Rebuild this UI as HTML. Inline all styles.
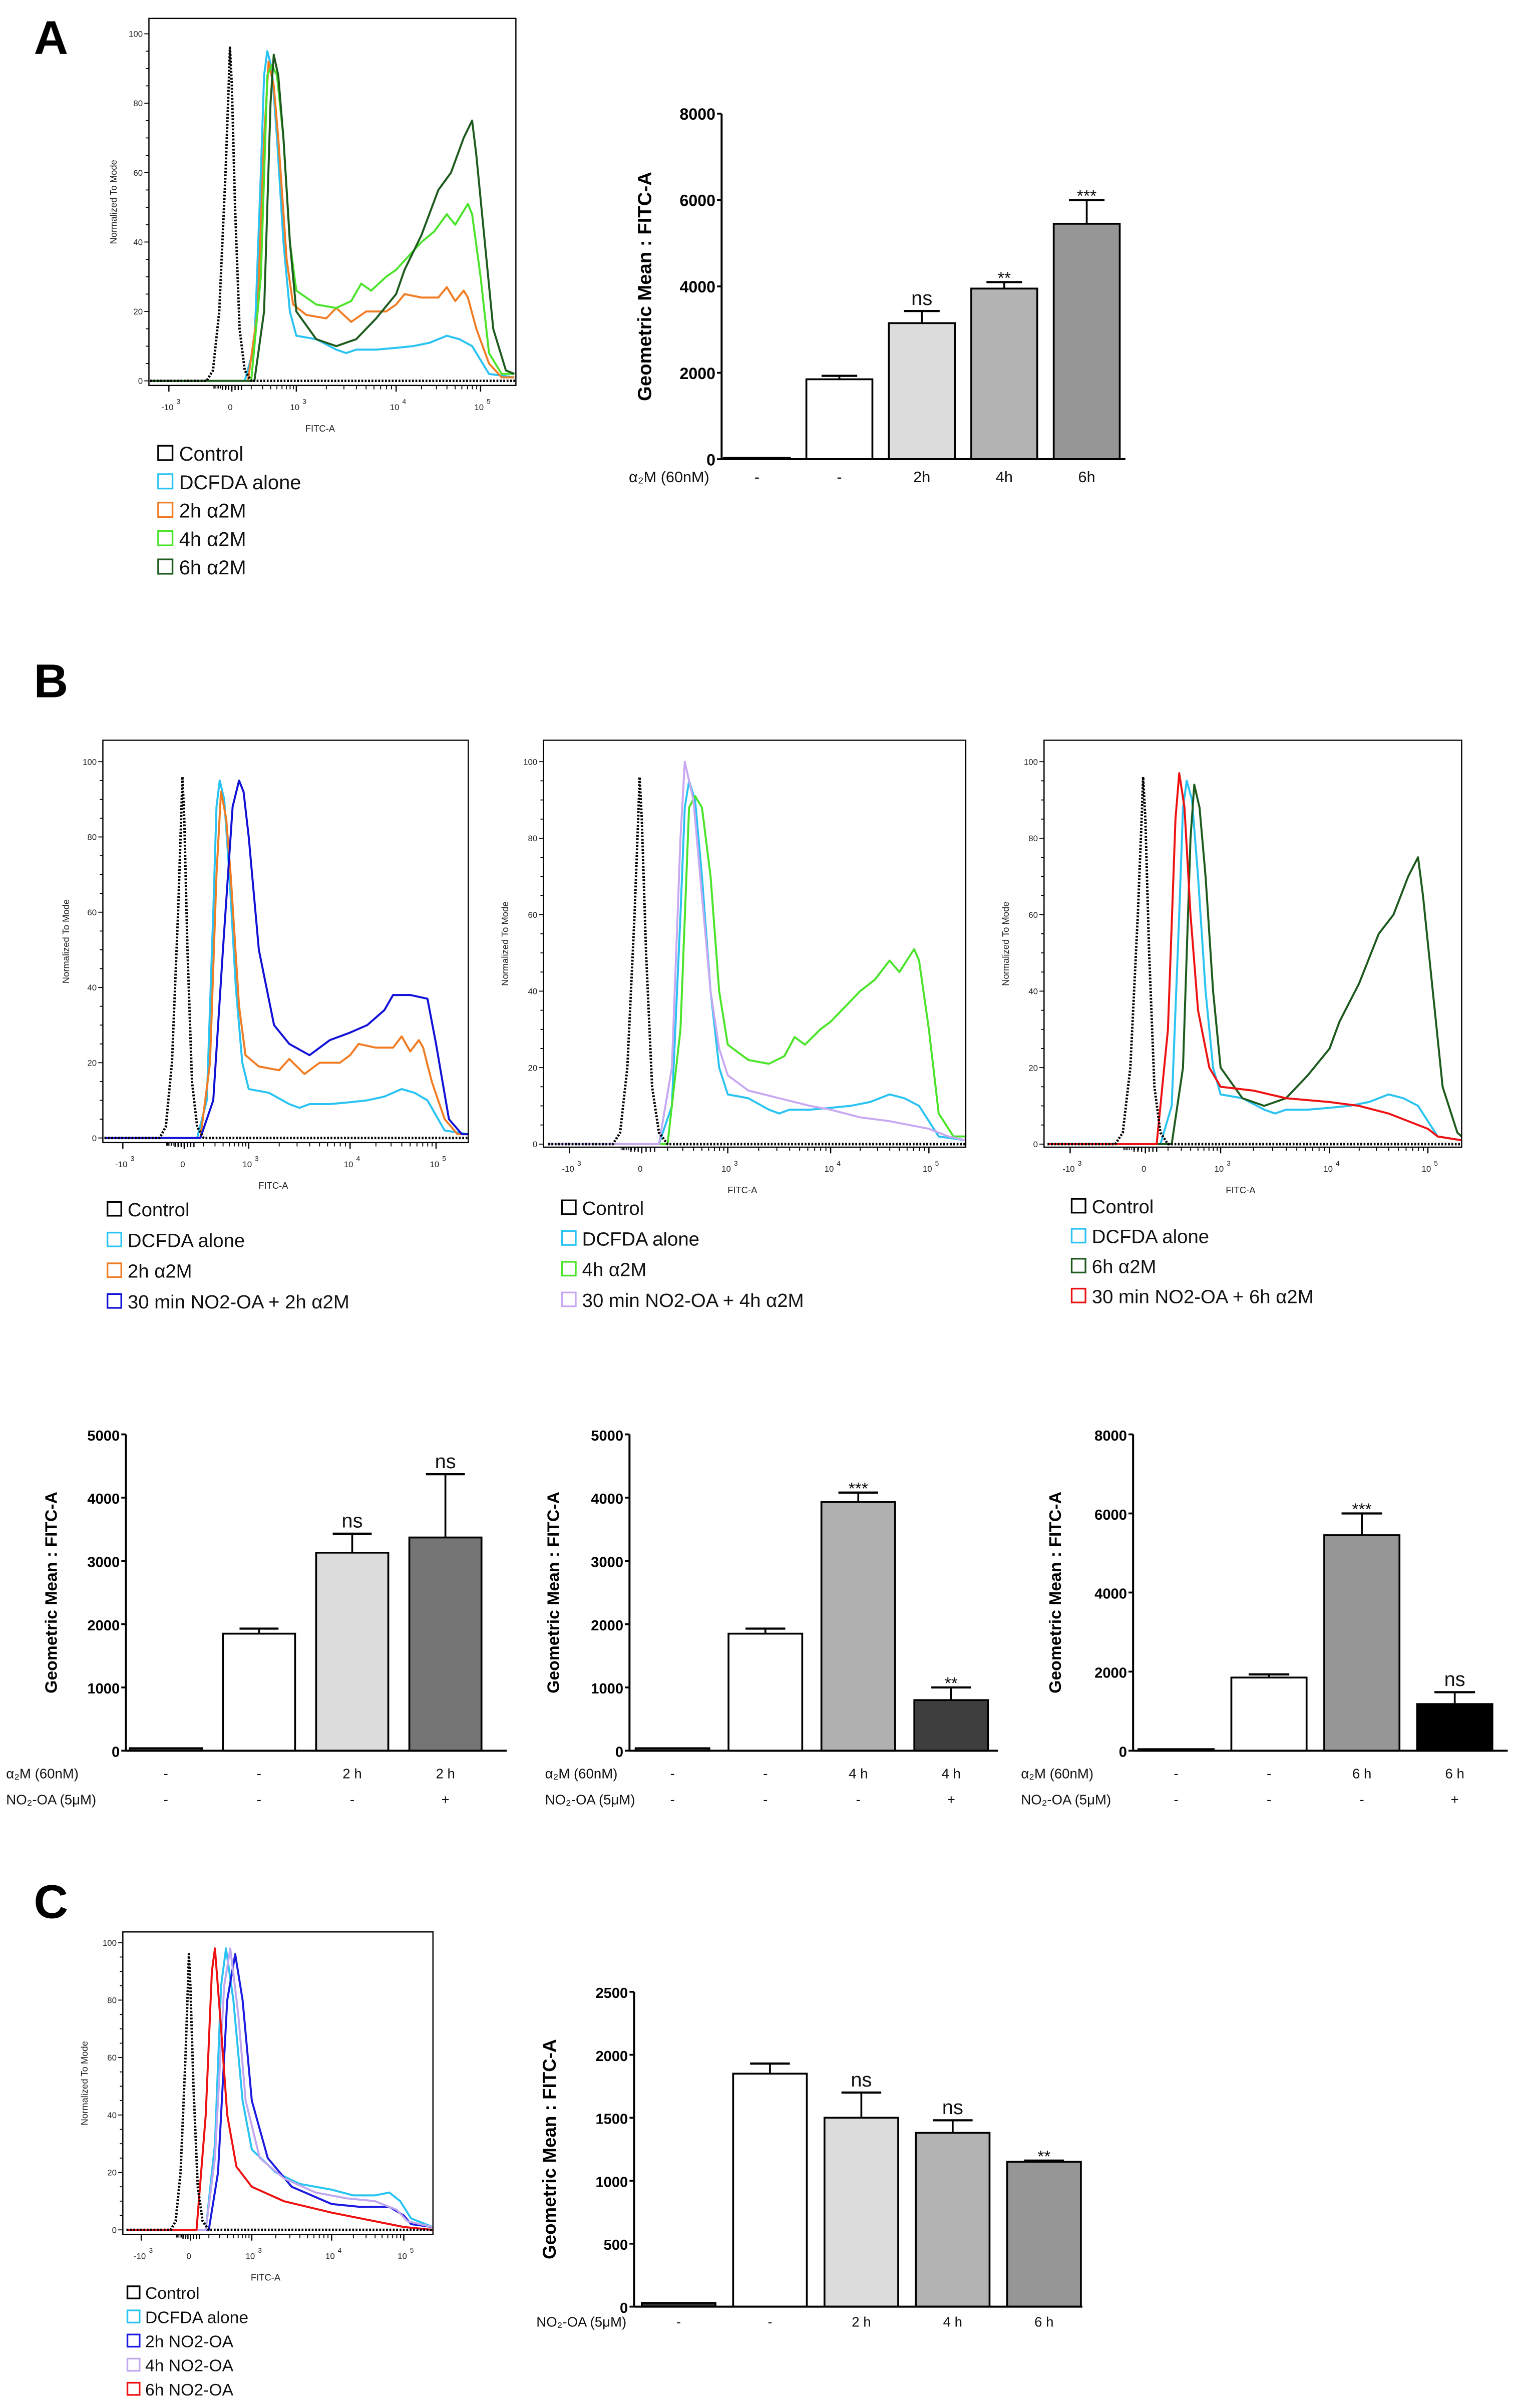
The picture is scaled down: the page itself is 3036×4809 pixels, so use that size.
<!DOCTYPE html>
<html><head><meta charset="utf-8"><style>
html,body{margin:0;padding:0;background:#fff;}
svg{display:block;font-family:"Liberation Sans",Arial,sans-serif;}
</style></head><body>
<svg id="fig" xmlns="http://www.w3.org/2000/svg" width="3036" height="4809" viewBox="0 0 990 1568" preserveAspectRatio="none">
<rect x="0" y="0" width="990" height="1568" fill="#fff"/>
<text x="22" y="35" font-size="31" font-weight="bold">A</text>
<text x="22" y="454" font-size="31" font-weight="bold">B</text>
<text x="22" y="1249" font-size="31" font-weight="bold">C</text>
</svg>
<script>
// ---------- histogram data (u: logicle decade units, -1=-10^3,0=0,1=10^3,2=10^4,3=10^5 ; v: % of mode) ----------
const ctrlU=[-1.3,-0.4,-0.3,-0.2,-0.1,-0.05,-0.03,0.0,0.05,0.12,0.2,0.3,3.5];
const ctrlV=[0,0,3,20,60,85,96,85,50,15,3,0,0];
const cyanU=[-1.3,0.2,0.35,0.45,0.5,0.55,0.62,0.7,0.8,0.9,1.0,1.2,1.4,1.5,1.6,1.8,2.0,2.2,2.4,2.6,2.75,2.9,3.0,3.1,3.4];
const cyanV=[0,0,10,60,88,95,90,70,40,20,13,12,9,8,9,9,9.5,10,11,13,12,10,6,2,1];
const orangeU=[-1.3,0.25,0.4,0.5,0.57,0.65,0.72,0.85,0.95,1.1,1.3,1.4,1.55,1.7,1.9,2.0,2.1,2.3,2.5,2.6,2.7,2.8,2.85,2.95,3.1,3.25,3.4];
const orangeV=[0,0,20,70,92,85,70,35,22,19,18,21,17,20,20,22,25,24,24,27,23,26,24,15,5,1,1];
const lgreenU=[-1.3,0.3,0.45,0.55,0.62,0.7,0.8,0.9,1.0,1.2,1.4,1.55,1.65,1.75,1.9,2.0,2.15,2.3,2.45,2.6,2.7,2.85,2.9,3.0,3.1,3.25,3.4];
const lgreenV=[0,0,30,88,91,88,70,40,26,22,21,23,28,26,30,32,36,40,43,48,45,51,48,30,8,2,2];
const dgreenU=[-1.3,0.35,0.5,0.6,0.65,0.72,0.8,0.9,1.0,1.2,1.4,1.6,1.8,2.0,2.1,2.3,2.5,2.65,2.8,2.9,2.95,3.05,3.15,3.3,3.4];
const dgreenV=[0,0,20,80,94,88,70,40,20,12,10,12,18,25,32,42,55,60,70,75,65,40,15,3,2];
const blueU=[-1.3,0.25,0.45,0.6,0.75,0.85,0.92,1.0,1.1,1.25,1.4,1.6,1.8,2.0,2.2,2.4,2.5,2.7,2.9,3.0,3.15,3.3,3.4];
const blueV=[0,0,10,50,88,95,92,80,50,30,25,22,26,28,30,34,38,38,37,25,5,1,1];
const lavU=[-1.3,0.2,0.35,0.45,0.5,0.6,0.7,0.8,0.9,1.0,1.2,1.5,1.8,2.0,2.3,2.6,2.8,3.0,3.2,3.4];
const lavV=[0,0,20,80,100,90,65,40,25,18,14,12,10,9,7,6,5,4,2,1];
const redU=[-1.3,0.15,0.3,0.4,0.45,0.52,0.6,0.7,0.85,1.0,1.3,1.6,2.0,2.3,2.6,2.8,3.0,3.1,3.4];
const redV=[0,0,30,85,97,88,60,35,20,15,14,12,11,10,8,6,4,2,1];
// panel C curves
const cCyanU=[-1.3,0.25,0.4,0.5,0.58,0.7,0.85,1.0,1.3,1.6,2.0,2.3,2.6,2.8,2.95,3.1,3.4];
const cCyanV=[0,0,30,85,98,80,45,28,20,16,14,12,12,13,10,4,1];
const cBlueU=[-1.3,0.3,0.45,0.6,0.73,0.85,1.0,1.2,1.5,2.0,2.4,2.8,3.0,3.1,3.4];
const cBlueV=[0,0,20,80,96,80,45,25,15,9,8,8,5,2,1];
const cLavU=[-1.3,0.25,0.4,0.55,0.65,0.78,0.9,1.1,1.4,1.8,2.2,2.6,2.9,3.05,3.4];
const cLavV=[0,0,25,85,98,75,45,25,18,13,11,10,7,3,1];
const cRedU=[-1.3,0.1,0.25,0.35,0.4,0.5,0.6,0.75,1.0,1.4,2.0,2.4,2.8,3.0,3.4];
const cRedV=[0,0,40,90,98,70,40,22,15,10,6,4,2,1,0];
const yTickVals=[0,20,40,60,80,100];
const xTickU=[-1,0,1,2,3];
const xTickLabels=["-10","0","10","10","10"];
const xTickExp=["3","","3","4","5"];

// ---------- bar data ----------
const aValues=[30,1850,3150,3950,5450];
const aErrors=[0,80,280,150,550];
const aSig=["","","ns","**","***"];
const aRow1=["-","-","2h","4h","6h"];
const aTicks=[0,2000,4000,6000,8000];
const b1Values=[40,1850,3130,3370];
const b1Errors=[0,80,300,1000];
const b1Sig=["","","ns","ns"];
const b1Row1=["-","-","2 h","2 h"];
const b1Row2=["-","-","-","+"];
const b2Values=[40,1850,3930,800];
const b2Errors=[0,80,150,200];
const b2Sig=["","","***","**"];
const b2Row1=["-","-","4 h","4 h"];
const b2Row2=["-","-","-","+"];
const b3Values=[40,1850,5450,1180];
const b3Errors=[0,80,550,300];
const b3Sig=["","","***","ns"];
const b3Row1=["-","-","6 h","6 h"];
const b3Row2=["-","-","-","+"];
const b5Ticks=[0,1000,2000,3000,4000,5000];
const cValues=[30,1850,1500,1380,1150];
const cErrors=[0,80,200,100,10];
const cSig=["","","ns","ns","**"];
const cRow1=["-","-","2 h","4 h","6 h"];
const cTicks=[0,500,1000,1500,2000,2500];

const NS="http://www.w3.org/2000/svg";
const svg=document.getElementById('fig');
function mk(tag,attrs,parent,txt){const e=document.createElementNS(NS,tag);for(const k in attrs)e.setAttribute(k,attrs[k]);if(txt!==undefined)e.textContent=txt;(parent||svg).appendChild(e);return e;}

function hist(cfg){
  const g=mk('g',{});
  
  
  const xp=cfg.xp;
  function X(u){
    if(u<=-1) return xp[0]+(u+1)*(xp[1]-xp[0]);
    if(u>=3) return xp[4]+(u-3)*(xp[4]-xp[3]);
    const i=Math.floor(u+1), f=u+1-i; return xp[i]+f*(xp[i+1]-xp[i]);
  }
  function Y(v){return cfg.y0-v/100*(cfg.y0-cfg.y100);}
  cfg.curves.forEach(c=>{
    let d='';
    for(let i=0;i<c.u.length;i++){
      let x=Math.max(cfg.L,Math.min(cfg.R,X(c.u[i])));
      d+=(i?'L':'M')+x.toFixed(2)+','+Y(c.v[i]).toFixed(2);
    }
    const p=mk('path',{d:d,fill:'none',stroke:c.color,'stroke-width':c.dash?1.6:1.3,'stroke-dasharray':c.dash?'1.2,1':'none','stroke-linejoin':'round'},g);
    
    
  });
  const fr=mk('rect',{x:cfg.L,y:cfg.T,width:cfg.R-cfg.L,height:cfg.B-cfg.T,fill:'none',stroke:'#000','stroke-width':0.8},g);
  
  
  for(let v=0;v<=100;v+=5){mk('line',{x1:cfg.L-(v%20?2:3),x2:cfg.L,y1:Y(v),y2:Y(v),stroke:'#000','stroke-width':0.6},g);}
  yTickVals.forEach(v=>{
    const t=mk('text',{x:cfg.L-4,y:Y(v)+2,'font-size':5.5,'text-anchor':'end',fill:'#222'},g,String(v));
    
    
  });
  xTickU.forEach((u,i)=>{
    mk('line',{x1:X(u),x2:X(u),y1:cfg.B,y2:cfg.B+4,stroke:'#000','stroke-width':0.8},g);
    const t=mk('text',{x:X(u)-1,y:cfg.B+16,'font-size':5.5,'text-anchor':'middle',fill:'#222'},g,xTickLabels[i]);
    
    
    if(xTickExp[i]) mk('text',{x:X(u)+(i==0?5:4),y:cfg.B+12,'font-size':4.5,fill:'#222'},g,xTickExp[i]);
  });
  for(let dcd=0;dcd<3;dcd++){for(let k=2;k<10;k++){const u=dcd+Math.log10(k);mk('line',{x1:X(u),x2:X(u),y1:cfg.B,y2:cfg.B+2.5,stroke:'#000','stroke-width':0.6},g);}}
  for(let k=2;k<10;k++){const u=-1+Math.log10(k)*0.3;mk('line',{x1:X(-u-1),x2:X(-u-1),y1:cfg.B,y2:cfg.B+2,stroke:'#000','stroke-width':0.5},g);}
  for(let k=-3;k<=3;k++){mk('line',{x1:X(k*0.05),x2:X(k*0.05),y1:cfg.B,y2:cfg.B+3,stroke:'#000','stroke-width':0.8},g);}
  const xl=mk('text',{x:(cfg.L+cfg.R)/2-8,y:cfg.B+30,'font-size':6,'text-anchor':'middle',fill:'#222'},g,'FITC-A');
  
  
  const cy=(cfg.T+cfg.B)/2;
  const yl=mk('text',{x:cfg.ylx,y:cy,'font-size':6,'text-anchor':'middle',fill:'#222',transform:'rotate(-90 '+cfg.ylx+' '+cy+')'},g,'Normalized To Mode');
  
  
  cfg.legend.forEach((l,i)=>{
    const y=cfg.legY+i*cfg.legStep;
    const s=mk('rect',{x:cfg.legX,y:y-cfg.legFs*0.75,width:cfg.legFs*0.72,height:cfg.legFs*0.72,fill:'none',stroke:l[1],'stroke-width':1.1},g);
    
    
    const t=mk('text',{x:cfg.legX+cfg.legFs*1.05,y:y,'font-size':cfg.legFs,fill:'#111'},g,l[0]);
    
    
  });
}

const C_CTRL={id:'control',color:'#000',dash:true,u:ctrlU,v:ctrlV};
const C_CY={id:'dcfda-alone',color:'#29c3f2',u:cyanU,v:cyanV};
const C_OR={id:'2h-a2m',color:'#f07c24',u:orangeU,v:orangeV};
const C_LG={id:'4h-a2m',color:'#4be42b',u:lgreenU,v:lgreenV};
const C_DG={id:'6h-a2m',color:'#1d5a1d',u:dgreenU,v:dgreenV};

hist({name:'histogram-a',L:97,R:336,T:12,B:251,y0:248,y100:22,xp:[110,151,193,258,313],ylx:76,
  curves:[C_CY,C_OR,C_LG,C_DG,C_CTRL],legX:103,legY:300,legStep:18.5,legFs:13,
  legend:[['Control','#000'],['DCFDA alone','#29c3f2'],['2h α2M','#f07c24'],['4h α2M','#4be42b'],['6h α2M','#1d5a1d']]});
hist({name:'histogram-b1',L:67,R:305,T:482,B:744,y0:741,y100:496,xp:[80,120,162,228,284],ylx:45,
  curves:[C_CY,C_OR,{id:'no2oa-2h-a2m',color:'#1010d6',u:blueU,v:blueV},C_CTRL],legX:70,legY:792,legStep:20,legFs:12.5,
  legend:[['Control','#000'],['DCFDA alone','#29c3f2'],['2h α2M','#f07c24'],['30 min NO2-OA + 2h α2M','#1010d6']]});
hist({name:'histogram-b2',L:354,R:629,T:482,B:747,y0:745,y100:496,xp:[371,418,474,541,605],ylx:331,
  curves:[C_CY,C_LG,{id:'no2oa-4h-a2m',color:'#c9a8f2',u:lavU,v:lavV},C_CTRL],legX:366,legY:791,legStep:20,legFs:12.5,
  legend:[['Control','#000'],['DCFDA alone','#29c3f2'],['4h α2M','#4be42b'],['30 min NO2-OA + 4h α2M','#c9a8f2']]});
hist({name:'histogram-b3',L:680,R:952,T:482,B:747,y0:745,y100:496,xp:[697,746,795,866,930],ylx:657,
  curves:[C_CY,C_DG,{id:'no2oa-6h-a2m',color:'#ee1111',u:redU,v:redV},C_CTRL],legX:698,legY:790,legStep:19.5,legFs:12.5,
  legend:[['Control','#000'],['DCFDA alone','#29c3f2'],['6h α2M','#1d5a1d'],['30 min NO2-OA + 6h α2M','#ee1111']]});
hist({name:'histogram-c',L:80,R:282,T:1258,B:1455,y0:1452,y100:1265,xp:[92,124,164,216,263],ylx:57,
  curves:[{id:'dcfda-alone',color:'#29c3f2',u:cCyanU,v:cCyanV},{id:'2h-no2oa',color:'#1a1ae0',u:cBlueU,v:cBlueV},{id:'4h-no2oa',color:'#c0a8f0',u:cLavU,v:cLavV},{id:'6h-no2oa',color:'#ee1111',u:cRedU,v:cRedV},C_CTRL],
  legX:83,legY:1497,legStep:15.7,legFs:11,
  legend:[['Control','#000'],['DCFDA alone','#29c3f2'],['2h NO2-OA','#1a1ae0'],['4h NO2-OA','#c0a8f0'],['6h NO2-OA','#ee1111']]});

function bar(cfg){
  const g=mk('g',{});
  
  
  const max=cfg.ticks[cfg.ticks.length-1];
  function Y(v){return cfg.y0-v/max*(cfg.y0-cfg.yTop);}
  function CX(i){return cfg.ax+cfg.off+i*cfg.step;}
  cfg.values.forEach((v,i)=>{
    const cx=CX(i), w=cfg.w;
    if(cfg.errors[i]>0){
      const ey=Y(v+cfg.errors[i]);
      mk('line',{x1:cx,x2:cx,y1:Y(v),y2:ey,stroke:'#000','stroke-width':1.2},g);
      mk('line',{x1:cx-w*0.27,x2:cx+w*0.27,y1:ey,y2:ey,stroke:'#000','stroke-width':1.4},g);
    }
    const r=mk('rect',{x:cx-w/2,y:Y(v),width:w,height:Math.max(0.8,cfg.y0-Y(v)),fill:i==0?'#333':cfg.fills[i],stroke:'#000','stroke-width':1.2},g);
    
    
    if(cfg.sig[i]){
      const ey=Y(v+cfg.errors[i]);
      const isNs=cfg.sig[i]=='ns';
      const t=mk('text',{x:cx,y:ey-(isNs?4:-1),'font-size':isNs?13:11,'text-anchor':'middle',fill:'#111'},g,cfg.sig[i]);
      
      
    }
    cfg.rows.forEach(r=>{
      const t=mk('text',{x:cx,y:r.y,'font-size':cfg.rowFs,'text-anchor':'middle',fill:'#111'},g,r.vals[i]);
      
      
    });
  });
  mk('line',{x1:cfg.ax,x2:cfg.ax,y1:cfg.yTop,y2:cfg.y0,stroke:'#000','stroke-width':1.3},g);
  mk('line',{x1:cfg.ax,x2:cfg.xEnd,y1:cfg.y0,y2:cfg.y0,stroke:'#000','stroke-width':1.3},g);
  cfg.ticks.forEach(v=>{
    mk('line',{x1:cfg.ax-3,x2:cfg.ax,y1:Y(v),y2:Y(v),stroke:'#000','stroke-width':1.2},g);
    const t=mk('text',{x:cfg.ax-4,y:Y(v)+4,'font-size':cfg.tickFs,'font-weight':'bold','text-anchor':'end',fill:'#000'},g,String(v));
    
    
  });
  const cy=(cfg.yTop+cfg.y0)/2;
  const yl=mk('text',{x:cfg.ylx,y:cy,'font-size':cfg.ylFs,'font-weight':'bold','text-anchor':'middle',fill:'#000',transform:'rotate(-90 '+cfg.ylx+' '+cy+')'},g,'Geometric Mean : FITC-A');
  
  
  cfg.rows.forEach(r=>{
    const t=mk('text',{x:r.x,y:r.y,'font-size':cfg.rowFs,'text-anchor':r.anchor||'start',fill:'#111'},g,r.label);
    
    
  });
}
bar({name:'bar-chart-a',ax:470,off:23,step:53.7,w:43,y0:299,yTop:74,xEnd:733,ticks:aTicks,values:aValues,errors:aErrors,sig:aSig,
  fills:['#333','#fff','#dcdcdc','#b3b3b3','#969696'],ylx:424,ylFs:12.5,tickFs:10.5,rowFs:10,
  rows:[{label:'α₂M (60nM)',x:462,anchor:'end',y:314,vals:aRow1}]});
bar({name:'bar-chart-b1',ax:82,off:26,step:60.7,w:47,y0:1140,yTop:934,xEnd:330,ticks:b5Ticks,values:b1Values,errors:b1Errors,sig:b1Sig,
  fills:['#333','#fff','#dcdcdc','#757575'],ylx:37,ylFs:11,tickFs:9.5,rowFs:9,
  rows:[{label:'α₂M (60nM)',x:4,y:1158,vals:b1Row1},{label:'NO₂-OA (5μM)',x:4,y:1175,vals:b1Row2}]});
bar({name:'bar-chart-b2',ax:410,off:28,step:60.5,w:48,y0:1140,yTop:934,xEnd:650,ticks:b5Ticks,values:b2Values,errors:b2Errors,sig:b2Sig,
  fills:['#333','#fff','#b0b0b0','#3e3e3e'],ylx:364,ylFs:11,tickFs:9.5,rowFs:9,
  rows:[{label:'α₂M (60nM)',x:355,y:1158,vals:b2Row1},{label:'NO₂-OA (5μM)',x:355,y:1175,vals:b2Row2}]});
bar({name:'bar-chart-b3',ax:738,off:28,step:60.5,w:49,y0:1140,yTop:934,xEnd:982,ticks:aTicks,values:b3Values,errors:b3Errors,sig:b3Sig,
  fills:['#333','#fff','#969696','#000'],ylx:691,ylFs:11,tickFs:9.5,rowFs:9,
  rows:[{label:'α₂M (60nM)',x:665,y:1158,vals:b3Row1},{label:'NO₂-OA (5μM)',x:665,y:1175,vals:b3Row2}]});
bar({name:'bar-chart-c',ax:413,off:29,step:59.5,w:48,y0:1502,yTop:1297,xEnd:705,ticks:cTicks,values:cValues,errors:cErrors,sig:cSig,
  fills:['#333','#fff','#dcdcdc','#b3b3b3','#969696'],ylx:362,ylFs:12,tickFs:9.5,rowFs:9,
  rows:[{label:'NO₂-OA (5μM)',x:408,anchor:'end',y:1515,vals:cRow1}]});
</script>
</body></html>
